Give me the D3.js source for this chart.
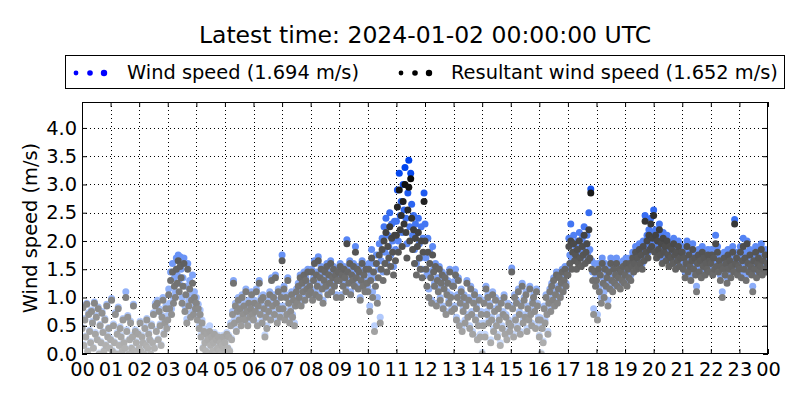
<!DOCTYPE html>
<html><head><meta charset="utf-8">
<script src="https://cdn.jsdelivr.net/npm/d3@7"></script>
<style>body{margin:0;background:#fff}svg{display:block;font-family:"DejaVu Sans",sans-serif}</style>
</head><body><svg id="c" width="800" height="400"></svg>
<script>
const title = "Latest time: 2024-01-02 00:00:00 UTC";
const hourLabels = ["00","01","02","03","04","05","06","07","08","09","10","11","12","13","14","15","16","17","18","19","20","21","22","23","00"];
const yTicks = [0,0.5,1.0,1.5,2.0,2.5,3.0,3.5,4.0];
const stepMinutes = 2;
const latestWind = 1.694, latestResultant = 1.652;
// resultant wind speed (m/s), one sample every 2 minutes, 30 per hour
const resultant = [
0.45,0.82,0.15,0.6,0.3,0.88,0.05,0.7,0.4,0.2,0.75,0.55,0.1,0.9,0.35,0.65,0.25,0.8,0.0,0.5,0.2,0.72,0.38,0.05,0.6,0.15,0.85,0.3,0.45,0.1,
0.25,0.95,0.05,0.5,0.2,0.7,0.0,0.35,0.8,0.15,0.45,0.3,0.05,0.6,0.2,0.1,1.0,0.4,0.65,0.0,0.25,0.55,0.1,0.3,0.85,0.05,0.4,0.2,0.0,0.35,
0.1,0.55,0.05,0.3,0.2,0.0,0.45,0.15,0.6,0.1,0.35,0.25,0.0,0.5,0.2,0.7,0.1,0.85,0.4,0.9,0.25,0.75,0.5,0.15,0.65,0.95,0.35,0.55,0.8,0.45,
0.6,1.05,0.8,1.3,0.7,1.45,0.9,1.2,1.0,1.5,1.25,1.65,1.1,1.55,1.35,0.9,1.2,1.6,0.75,1.05,0.55,1.5,0.85,1.15,0.65,0.95,1.25,0.7,1.0,0.8,
0.9,0.6,0.8,0.45,0.7,0.3,0.55,0.1,0.4,0.2,0.05,0.35,0.25,0.0,0.4,0.15,0.3,0.05,0.2,0.35,0.0,0.25,0.1,0.3,0.05,0.2,0.0,0.15,0.3,0.1,
0.2,0.0,0.35,0.1,0.3,0.05,0.5,0.25,0.7,1.25,0.55,0.85,0.4,0.75,0.95,0.6,0.8,0.5,1.0,0.7,0.85,0.6,1.1,0.75,0.5,0.9,0.65,0.8,1.05,0.7,
0.6,0.9,0.75,1.1,0.5,0.85,1.25,0.7,0.95,0.55,1.0,0.8,0.3,0.65,0.45,0.9,0.75,1.05,0.6,1.3,0.85,1.0,0.7,1.35,0.9,0.55,1.1,0.8,0.65,1.0,
1.65,0.8,1.15,0.6,1.0,0.7,1.3,0.9,0.55,0.75,1.05,0.65,0.95,0.5,0.85,1.1,0.9,1.2,1.0,1.35,0.85,1.25,1.1,1.4,0.95,1.3,1.15,1.45,1.05,1.2,
1.1,1.45,0.95,1.3,1.6,1.05,1.4,1.2,1.65,1.0,1.35,1.5,1.15,0.9,1.3,1.45,1.2,1.55,1.05,1.4,1.25,1.6,1.1,1.35,1.5,1.2,1.4,1.0,1.3,1.45,
1.3,1.55,1.0,1.4,1.2,1.5,1.35,1.1,1.95,1.45,1.25,1.6,1.05,1.4,1.3,1.55,1.2,1.8,1.35,1.5,1.15,1.45,0.95,1.3,1.6,1.2,1.4,1.1,1.5,1.25,
1.1,1.5,0.75,1.3,1.7,1.0,1.45,0.4,1.2,1.6,0.9,1.35,1.75,0.55,1.5,1.85,1.3,2.0,1.6,2.15,1.45,1.9,1.7,2.25,1.55,2.05,1.8,1.4,2.1,1.65,
2.1,2.6,1.8,2.9,2.2,2.45,1.9,2.7,2.3,3.0,2.15,1.7,2.55,2.95,2.0,3.1,2.4,1.85,2.2,1.6,2.05,1.4,1.9,2.15,1.7,1.5,2.0,1.35,1.8,2.7,
2.0,1.5,1.2,1.8,1.0,1.6,1.35,0.9,1.75,1.45,1.2,1.55,0.85,1.3,1.1,1.5,0.95,1.25,1.4,0.8,1.15,1.35,0.7,1.05,1.25,0.9,1.45,1.0,0.75,1.2,
1.2,0.8,1.4,0.6,1.0,1.3,0.5,0.9,1.1,0.4,0.75,1.0,0.55,0.85,1.25,0.65,0.95,0.45,1.15,0.7,0.35,0.9,1.05,0.6,0.8,0.25,0.5,0.95,0.3,0.7,
0.0,0.5,0.9,0.3,1.15,0.7,1.0,0.55,0.85,0.2,0.6,1.05,0.4,0.75,0.95,0.5,0.3,0.8,0.6,0.15,0.9,0.45,0.7,1.0,0.35,0.65,0.25,0.85,0.55,0.4,
0.5,1.45,0.8,0.3,1.0,0.6,0.9,0.45,1.1,0.7,0.35,0.85,1.2,0.55,0.95,0.65,1.05,0.4,0.8,0.6,1.15,0.7,0.5,0.9,1.0,0.75,0.45,1.1,0.85,0.6,
0.3,0.6,0.0,0.45,0.2,0.8,0.55,1.0,0.7,0.35,0.9,1.1,0.75,1.2,0.95,1.3,0.85,1.05,1.4,0.9,1.15,1.35,1.0,1.25,1.45,1.1,1.3,1.5,1.2,1.4,
1.4,1.9,1.6,2.0,1.5,1.8,1.95,1.65,1.75,1.5,1.85,1.6,2.0,1.7,1.55,1.9,1.75,2.1,1.6,1.8,1.95,1.65,2.2,1.7,2.85,1.5,1.3,0.7,1.45,1.2,
1.3,0.6,1.5,1.1,1.4,0.9,1.6,1.25,1.0,1.5,1.2,1.35,0.85,1.45,1.15,1.6,1.3,1.1,1.5,1.25,1.4,1.6,1.2,1.35,1.5,1.15,1.45,1.3,1.55,1.25,
1.4,1.6,1.2,1.5,1.35,1.6,1.3,1.55,1.7,1.45,1.6,1.8,1.5,1.7,1.55,1.85,1.6,1.75,1.5,1.9,1.65,2.35,1.8,2.0,1.7,2.1,1.85,2.3,1.9,2.05,
2.45,1.8,2.1,1.7,2.0,1.85,2.2,1.75,1.95,1.6,2.05,1.8,1.9,1.65,2.0,1.75,1.55,1.9,1.7,1.85,1.6,1.95,1.75,1.5,1.8,1.65,1.9,1.55,1.7,1.8,
1.8,1.5,1.7,1.35,1.6,1.9,1.45,1.75,1.55,1.3,1.65,1.85,1.5,1.7,1.4,1.1,1.6,1.75,1.45,1.65,1.35,1.8,1.55,1.7,1.4,1.6,1.5,1.75,1.45,1.65,
1.6,1.75,1.4,1.7,1.5,1.95,1.55,1.8,1.45,1.65,1.3,1.55,1.0,1.5,1.7,1.4,1.6,1.25,1.75,1.5,1.65,1.35,1.55,1.8,1.45,2.3,1.6,1.7,1.4,1.55,
1.5,1.8,1.35,1.65,1.9,1.5,1.7,1.3,1.95,1.6,1.45,1.75,1.55,1.4,1.1,1.65,1.5,1.8,1.35,1.6,1.7,1.45,1.55,1.85,1.4,1.65,1.5,1.75,1.45,1.6];
// wind speed (m/s), one sample every 2 minutes, 30 per hour
const wind = [
0.47,0.85,0.17,0.63,0.32,0.9,0.07,0.73,0.42,0.22,0.78,0.58,0.12,0.92,0.38,0.68,0.27,0.83,0.02,0.52,0.22,0.75,0.4,0.07,0.63,0.17,0.88,0.33,0.47,0.12,
0.28,0.98,0.07,0.53,0.22,0.73,0.02,0.38,0.83,0.17,0.48,0.33,0.07,0.63,0.22,0.12,1.1,0.43,0.68,0.02,0.27,0.58,0.12,0.33,0.88,0.07,0.43,0.22,0.02,0.38,
0.12,0.58,0.07,0.33,0.22,0.02,0.48,0.17,0.63,0.12,0.38,0.27,0.02,0.53,0.22,0.73,0.12,0.9,0.43,0.95,0.27,0.8,0.53,0.17,0.68,1.0,0.38,0.58,0.85,0.48,
0.68,1.15,0.9,1.45,0.8,1.6,1.0,1.35,1.1,1.7,1.4,1.75,1.25,1.72,1.5,1.0,1.35,1.7,0.85,1.2,0.62,1.6,0.95,1.3,0.72,1.05,1.4,0.78,1.1,0.88,
1.0,0.68,0.88,0.5,0.78,0.34,0.6,0.12,0.45,0.22,0.07,0.4,0.28,0.02,0.5,0.17,0.33,0.07,0.22,0.38,0.02,0.28,0.12,0.33,0.07,0.22,0.02,0.17,0.33,0.12,
0.22,0.02,0.38,0.12,0.33,0.07,0.55,0.28,0.75,1.3,0.6,0.9,0.44,0.8,1.0,0.65,0.85,0.55,1.05,0.75,0.9,0.65,1.15,0.8,0.55,0.95,0.7,0.85,1.1,0.75,
0.65,0.95,0.8,1.15,0.55,0.9,1.3,0.75,1.0,0.6,1.05,0.85,0.34,0.7,0.5,0.95,0.8,1.1,0.65,1.35,0.9,1.05,0.75,1.4,0.95,0.6,1.15,0.85,0.7,1.05,
1.75,0.85,1.2,0.65,1.05,0.75,1.35,0.95,0.6,0.8,1.1,0.7,1.0,0.55,0.9,1.15,0.95,1.25,1.05,1.4,0.9,1.3,1.15,1.45,1.0,1.35,1.2,1.5,1.1,1.25,
1.15,1.5,1.0,1.35,1.65,1.1,1.45,1.25,1.72,1.05,1.4,1.55,1.2,0.95,1.35,1.5,1.25,1.6,1.1,1.45,1.3,1.65,1.15,1.4,1.55,1.25,1.45,1.05,1.35,1.5,
1.35,1.6,1.05,1.45,1.25,1.55,1.4,1.15,2.02,1.5,1.3,1.65,1.1,1.45,1.35,1.6,1.25,1.9,1.4,1.55,1.2,1.5,1.0,1.35,1.65,1.25,1.45,1.15,1.55,1.3,
1.2,1.6,0.85,1.4,1.85,1.1,1.6,0.5,1.35,1.75,1.0,1.5,1.95,0.65,1.65,2.05,1.45,2.25,1.8,2.4,1.6,2.1,1.9,2.5,1.75,2.3,2.0,1.55,2.35,1.85,
2.35,2.9,2.0,3.2,2.45,2.7,2.15,3.0,2.55,3.3,2.4,1.95,2.85,3.43,2.25,3.2,2.65,2.1,2.45,1.85,2.3,1.6,2.15,2.4,1.95,1.7,2.25,1.5,2.05,2.85,
2.3,1.7,1.4,2.05,1.15,1.8,1.45,0.95,1.9,1.5,1.25,1.6,0.9,1.35,1.15,1.55,1.0,1.3,1.45,0.85,1.2,1.4,0.75,1.1,1.3,0.95,1.5,1.05,0.8,1.25,
1.28,0.85,1.5,0.65,1.05,1.35,0.55,0.95,1.15,0.45,0.8,1.05,0.6,0.9,1.3,0.7,1.0,0.5,1.2,0.75,0.4,0.95,1.1,0.65,0.85,0.3,0.55,1.0,0.35,0.75,
0.03,0.55,0.95,0.35,1.2,0.75,1.05,0.6,0.9,0.25,0.65,1.1,0.45,0.8,1.0,0.55,0.35,0.85,0.65,0.2,0.95,0.5,0.75,1.05,0.4,0.7,0.3,0.9,0.6,0.45,
0.55,1.52,0.85,0.35,1.05,0.65,0.95,0.5,1.15,0.75,0.4,0.9,1.25,0.6,1.0,0.7,1.1,0.45,0.85,0.65,1.2,0.75,0.55,0.95,1.05,0.8,0.5,1.15,0.9,0.65,
0.33,0.64,0.02,0.5,0.23,0.85,0.6,1.05,0.75,0.4,0.95,1.15,0.8,1.25,1.0,1.35,0.9,1.1,1.45,0.95,1.2,1.4,1.05,1.3,1.5,1.15,1.35,1.55,1.25,1.45,
1.55,2.05,1.75,2.3,1.65,1.95,2.1,1.8,1.9,1.65,2.0,1.75,2.15,1.85,1.7,2.05,1.9,2.25,1.75,1.95,2.1,1.8,2.5,1.85,2.92,1.65,1.45,0.8,1.6,1.35,
1.4,0.7,1.6,1.2,1.5,1.0,1.7,1.35,1.1,1.6,1.3,1.45,0.95,1.55,1.25,1.7,1.4,1.2,1.6,1.35,1.5,1.7,1.3,1.45,1.6,1.25,1.55,1.4,1.65,1.35,
1.5,1.7,1.3,1.6,1.45,1.7,1.4,1.65,1.8,1.55,1.7,1.9,1.6,1.8,1.65,1.95,1.7,1.85,1.6,2.0,1.75,2.45,1.9,2.1,1.8,2.2,1.95,2.4,2.0,2.15,
2.55,1.9,2.2,1.8,2.1,1.95,2.3,1.85,2.05,1.7,2.15,1.9,2.0,1.75,2.1,1.85,1.65,2.0,1.8,1.95,1.7,2.05,1.85,1.6,1.9,1.75,2.0,1.65,1.8,1.9,
1.9,1.6,1.8,1.45,1.7,2.0,1.55,1.85,1.65,1.4,1.75,1.95,1.6,1.8,1.5,1.2,1.7,1.85,1.55,1.75,1.45,1.9,1.65,1.8,1.5,1.7,1.6,1.85,1.55,1.75,
1.7,1.85,1.5,1.8,1.6,2.1,1.65,1.9,1.55,1.75,1.4,1.65,1.1,1.6,1.8,1.5,1.7,1.35,1.85,1.6,1.75,1.45,1.65,1.9,1.55,2.38,1.7,1.8,1.5,1.65,
1.6,1.9,1.45,1.75,2.05,1.6,1.8,1.4,2.0,1.7,1.55,1.85,1.65,1.5,1.2,1.75,1.6,1.9,1.45,1.7,1.8,1.55,1.65,1.95,1.5,1.75,1.6,1.85,1.55,1.7];

const svg = d3.select("#c");
const m = {l:82, r:768, t:102, b:354};
const yMax = d3.max(wind) * 1.3;
const x = d3.scaleLinear().domain([0, 24*60]).range([m.l, m.r]);
const y = d3.scaleLinear().domain([0, yMax]).range([m.b, m.t]);
const windColor = v => d3.interpolateRgb("#dce9ff", "#0044ee")(Math.min(1, v / 3.3));
const resColor = v => d3.interpolateRgb("#b8b8b8", "#000000")(Math.min(1, v / 3.3));

svg.append("text").attr("x", 425).attr("y", 43).attr("text-anchor", "middle")
  .attr("font-size", 23.5).text(title);

// grid
const g = svg.append("g");
const hourTicks = d3.range(0, 25).map(h => h*60);
g.selectAll("line.gx").data(hourTicks.slice(1, -1)).join("line")
  .attr("x1", d => Math.round(x(d))+0.5).attr("x2", d => Math.round(x(d))+0.5).attr("y1", m.t).attr("y2", m.b)
  .attr("stroke", "#000").attr("stroke-dasharray", "1,3").attr("stroke-width", 1);
g.selectAll("line.gy").data(yTicks.slice(1)).join("line")
  .attr("x1", m.l).attr("x2", m.r).attr("y1", d => Math.round(y(d))+0.5).attr("y2", d => Math.round(y(d))+0.5)
  .attr("stroke", "#000").attr("stroke-dasharray", "1,3").attr("stroke-width", 1);

// points
svg.append("clipPath").attr("id","pc").append("rect")
  .attr("x", m.l).attr("y", m.t).attr("width", m.r-m.l).attr("height", m.b-m.t);
const pts = svg.append("g").attr("clip-path","url(#pc)");
pts.selectAll("circle.w").data(wind).join("circle").attr("class","w")
  .attr("cx", (d,i) => x(i*stepMinutes)).attr("cy", d => y(d)).attr("r", 3.5)
  .attr("fill", d => windColor(d));
pts.selectAll("circle.r").data(resultant).join("circle").attr("class","r")
  .attr("cx", (d,i) => x(i*stepMinutes)).attr("cy", d => y(d)).attr("r", 3.5)
  .attr("fill", d => resColor(d));

// axes (ticks inward on all sides)
const xb = d3.axisBottom(x).tickValues(hourTicks).tickFormat((d,i) => hourLabels[i]).tickSizeInner(-5).tickSizeOuter(0).tickPadding(8);
const xt = d3.axisTop(x).tickValues(hourTicks).tickFormat("").tickSizeInner(-5).tickSizeOuter(0);
const yl = d3.axisLeft(y).tickValues(yTicks).tickFormat(d3.format(".1f")).tickSizeInner(-5).tickSizeOuter(0).tickPadding(5);
const yr = d3.axisRight(y).tickValues(yTicks).tickFormat("").tickSizeInner(-5).tickSizeOuter(0);
const style = a => { a.select(".domain").remove(); a.selectAll("text").attr("font-size", 19.4).attr("fill","#000").attr("font-family","DejaVu Sans"); a.selectAll("line").attr("stroke","#000"); };
svg.append("g").attr("transform", `translate(0,${m.b})`).call(xb).call(style);
svg.append("g").attr("transform", `translate(0,${m.t})`).call(xt).call(style);
svg.append("g").attr("transform", `translate(${m.l},0)`).call(yl).call(style);
svg.append("g").attr("transform", `translate(${m.r},0)`).call(yr).call(style);
svg.append("rect").attr("x", m.l+0.5).attr("y", m.t+0.5).attr("width", m.r-m.l-1).attr("height", m.b-m.t-1)
  .attr("fill","none").attr("stroke","#000").attr("stroke-width",1);

svg.append("text").attr("transform", `translate(37,${(m.t+m.b)/2}) rotate(-90)`)
  .attr("text-anchor","middle").attr("font-size",19.4).text("Wind speed (m/s)");

// legend
const lg = svg.append("g");
lg.append("rect").attr("x", 65.5).attr("y", 55.5).attr("width", 719).attr("height", 33)
  .attr("fill","#fff").attr("stroke","#000");
const legendItems = [
  {label: `Wind speed (${latestWind.toFixed(3)} m/s)`, color: "#0000ff", x0: 76, tx: 127},
  {label: `Resultant wind speed (${latestResultant.toFixed(3)} m/s)`, color: "#000000", x0: 401, tx: 451}
];
const dotR = [2.4, 2.8, 3.2];
legendItems.forEach(it => {
  dotR.forEach((r,k) => lg.append("circle").attr("cx", it.x0 + k*14).attr("cy", 73).attr("r", r).attr("fill", it.color));
  lg.append("text").attr("x", it.tx).attr("y", 79).attr("font-size", 19.4).text(it.label);
});
</script></body></html>
